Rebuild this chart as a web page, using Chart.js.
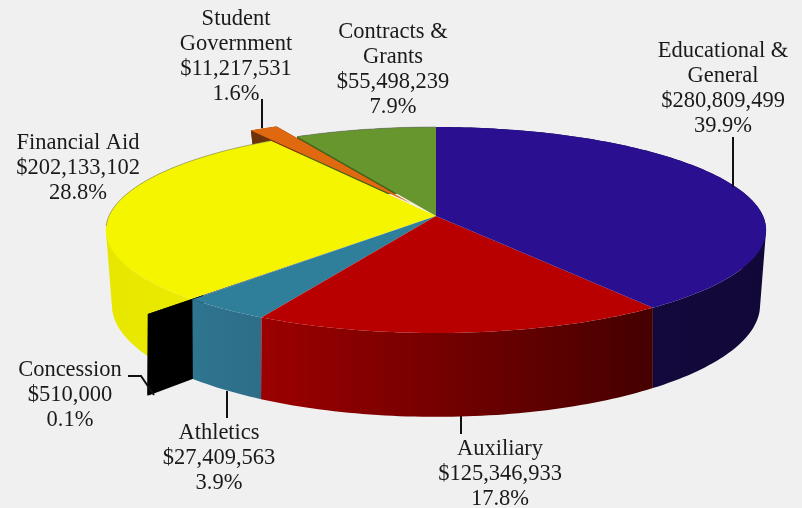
<!DOCTYPE html>
<html>
<head>
<meta charset="utf-8">
<title>Budget by fund</title>
<script src="https://cdn.jsdelivr.net/npm/chart.js@4"></script>
<style>
  body { margin: 0; background: #f0f0f0; }
  canvas { display: block; }
</style>
</head>
<body>
<canvas id="budgetChart" width="802" height="508"></canvas>
<script>
const categories = [["Educational &", "General"], ["Auxiliary"], ["Athletics"], ["Concession"], ["Financial Aid"], ["Student", "Government"], ["Contracts &", "Grants"]];
const amounts = [280809499, 125346933, 27409563, 510000, 202133102, 11217531, 55498239];
const percents = ["39.9%", "17.8%", "3.9%", "0.1%", "28.8%", "1.6%", "7.9%"];

const topColors = ["#2a1090", "#b80000", "#2f7f9b", "#000000", "#f5f500", "#e0680f", "#66962d"];
const wallColors = [["#140a42", "#120838"], ["#9c0000", "#450000"], ["#2e7590", "#2e6d88"], ["#000000", "#000000"], ["#e6e600", "#f0f000"], ["#6e3208", "#6e3208"], ["#3f5f1c", "#3f5f1c"]];
const explode = { 3: 0.157, 5: 0.15 };
const halo = { 4: true, 6: true };

// text placement: centre x, y of first line, and the leader line drawn next to it
const labelSpots = [
  { x: 723, y: 51, leader: [[733, 137], [733, 187]] },
  { x: 500, y: 449, leader: [[461, 416], [461, 434]] },
  { x: 219, y: 433, leader: [[227, 391], [227, 418]] },
  { x: 70, y: 370, leader: [[128, 376], [141, 376], [154, 395]] },
  { x: 78, y: 143, leader: null },
  { x: 236, y: 19, leader: [[262, 99], [262, 128]] },
  { x: 393, y: 32, leader: null }
];

// tilted disc: top face and bottom face have their own perspective
function project(arc, u, v, bottom) {
  const R = arc.outerRadius;
  const face = bottom
    ? { a: 1.481, b: 0.505, p: 0.16, dy: 71 / 216 }
    : { a: 1.514, b: 0.468, p: 0.136, dy: 0 };
  const den = 1 + face.p * v;
  return [arc.x + face.a * R * u / den, arc.y + (face.dy - face.b * v / den) * R];
}

function rimAngles(from, to) {
  const steps = Math.max(2, Math.ceil(Math.abs(to - from) / 0.02));
  const angles = [];
  for (let s = 0; s <= steps; s++) {
    angles.push(from + (to - from) * s / steps);
  }
  return angles;
}

function tracePath(ctx, path) {
  path.forEach(function(p, i) {
    if (i === 0) {
      ctx.moveTo(p[0], p[1]);
    } else {
      ctx.lineTo(p[0], p[1]);
    }
  });
}

function fillPath(ctx, path, color) {
  ctx.beginPath();
  tracePath(ctx, path);
  ctx.closePath();
  ctx.fillStyle = color;
  ctx.fill();
}

function signedArea(path) {
  let area = 0;
  path.forEach(function(p, i) {
    const q = path[(i + 1) % path.length];
    area += p[0] * q[1] - q[0] * p[1];
  });
  return area;
}

const pie3d = {
  id: "pie3d",
  beforeDatasetDraw: function(chart, args) {
    const ctx = chart.ctx;
    const arcs = args.meta.data;
    // back to front, so the nearer slices cover the others
    for (let i = arcs.length - 1; i >= 0; i--) {
      const arc = arcs[i];
      const t1 = arc.startAngle + Math.PI / 2;
      const t2 = arc.endAngle + Math.PI / 2;
      const mid = (t1 + t2) / 2;
      const e = explode[i] || 0;
      const off = [e * Math.sin(mid), e * Math.cos(mid)];
      const angles = rimAngles(t1, t2);
      const rimTop = angles.map(function(t) {
        return project(arc, off[0] + Math.sin(t), off[1] + Math.cos(t), false);
      });
      const rimBottom = angles.map(function(t) {
        return project(arc, off[0] + Math.sin(t), off[1] + Math.cos(t), true);
      });

      // outer wall: one path of same-facing quads, no seams and the silhouette stays
      const xs = rimTop.map(function(p) { return p[0]; });
      const grad = ctx.createLinearGradient(Math.min.apply(null, xs), 0, Math.max.apply(null, xs) + 1, 0);
      grad.addColorStop(0, wallColors[i][0]);
      grad.addColorStop(1, wallColors[i][1]);
      ctx.beginPath();
      for (let s = 0; s < angles.length - 1; s++) {
        const quad = [rimTop[s], rimTop[s + 1], rimBottom[s + 1], rimBottom[s]];
        tracePath(ctx, signedArea(quad) < 0 ? quad.reverse() : quad);
        ctx.closePath();
      }
      ctx.fillStyle = grad;
      ctx.fill();

      // cut faces of a pulled-out slice, only the outer part can be seen
      if (e > 0) {
        [t1, t2].forEach(function(t) {
          const rimU = off[0] + Math.sin(t);
          const rimV = off[1] + Math.cos(t);
          const inU = off[0] + 0.8 * Math.sin(t);
          const inV = off[1] + 0.8 * Math.cos(t);
          fillPath(ctx, [
            project(arc, inU, inV, false),
            project(arc, rimU, rimV, false),
            project(arc, rimU, rimV, true),
            project(arc, inU, inV, true)
          ], wallColors[i][0]);
        });
      }

      fillPath(ctx, [project(arc, off[0], off[1], false)].concat(rimTop), topColors[i]);

      if (halo[i]) {
        const backRim = rimTop.filter(function(p, s) { return Math.cos(angles[s]) > -0.1; });
        ctx.beginPath();
        tracePath(ctx, backRim);
        ctx.strokeStyle = "rgba(110,110,110,0.55)";
        ctx.lineWidth = 1;
        ctx.stroke();
      }
    }
    return false;
  },
  afterDraw: function(chart) {
    const ctx = chart.ctx;
    ctx.save();
    ctx.font = "22.5px 'Liberation Serif'";
    ctx.textAlign = "center";
    ctx.textBaseline = "middle";
    ctx.fillStyle = "#1a1a1a";
    ctx.strokeStyle = "#111111";
    ctx.lineWidth = 2;
    categories.forEach(function(name, i) {
      const spot = labelSpots[i];
      const lines = name.concat(["$" + amounts[i].toLocaleString("en-US"), percents[i]]);
      lines.forEach(function(line, n) {
        ctx.fillText(line, spot.x, spot.y + n * 25);
      });
      if (spot.leader) {
        ctx.beginPath();
        tracePath(ctx, spot.leader);
        ctx.stroke();
      }
    });
    ctx.restore();
  }
};

new Chart(document.getElementById("budgetChart"), {
  type: "pie",
  data: {
    labels: categories.map(function(c) { return c.join(" "); }),
    datasets: [{ data: amounts, backgroundColor: topColors, borderWidth: 0 }]
  },
  options: {
    responsive: false,
    animation: false,
    layout: { padding: { left: 70, bottom: 76 } },
    plugins: { legend: { display: false }, tooltip: { enabled: false } }
  },
  plugins: [pie3d]
});
</script>
</body>
</html>
